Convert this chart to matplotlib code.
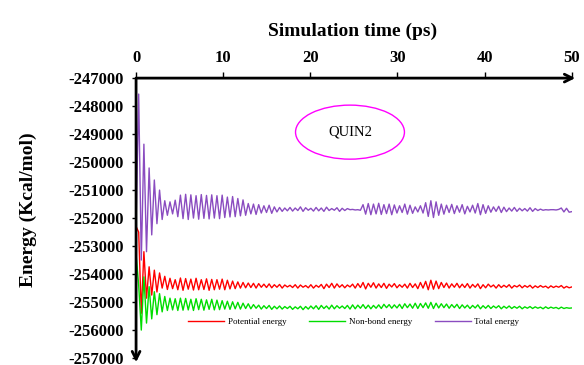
import matplotlib
matplotlib.use("Agg")
import matplotlib.pyplot as plt
import numpy as np
from matplotlib.patches import Ellipse

plt.rcParams['font.family'] = ['Liberation Serif', 'DejaVu Serif']

# sampled energies (kcal/mol), one frame every ~0.3 ps from 0 to 50 ps
total_energy = [
    -252200, -247570, -253500, -249360, -253200, -250210, -252600, -250640, -252200, -251000,
    -252050, -251380, -251900, -251420, -251850, -251360, -251950, -251180, -252020, -251150,
    -252050, -251170, -252000, -251200, -252040, -251160, -252010, -251190, -252030, -251170,
    -252000, -251200, -252020, -251180, -251980, -251250, -251960, -251230, -251950, -251300,
    -251920, -251350, -251900, -251480, -251850, -251500, -251870, -251520, -251820, -251560,
    -251800, -251540, -251830, -251600, -251780, -251620, -251760, -251640, -251740, -251620,
    -251750, -251640, -251730, -251600, -251760, -251630, -251720, -251650, -251750, -251620,
    -251740, -251640, -251760, -251610, -251730, -251660, -251720, -251630, -251760, -251650,
    -251730, -251660, -251700, -251690, -251710, -251700, -251720, -251520, -251860, -251480,
    -251880, -251500, -251850, -251470, -251870, -251520, -251840, -251500, -251880, -251530,
    -251820, -251560, -251800, -251500, -251860, -251540, -251830, -251600, -251780, -251560,
    -251820, -251450, -251940, -251380, -251980, -251420, -251900, -251500, -251860, -251540,
    -251800, -251510, -251840, -251560, -251790, -251520, -251850, -251580, -251780, -251540,
    -251820, -251480, -251880, -251520, -251830, -251560, -251790, -251600, -251760, -251580,
    -251800, -251610, -251770, -251640, -251750, -251620, -251760, -251650, -251740, -251660,
    -251750, -251630, -251760, -251660, -251730, -251680, -251720, -251700, -251710, -251700,
    -251700, -251710, -251690, -251640, -251780, -251650, -251790, -251770,
]

potential_energy = [
    -252300, -252500, -255400, -253200, -254860, -253740, -254750, -253860, -254640, -253960,
    -254500, -254080, -254550, -254150, -254520, -254200, -254560, -254140, -254580, -254160,
    -254540, -254180, -254570, -254150, -254560, -254200, -254550, -254170, -254580, -254190,
    -254560, -254200, -254540, -254180, -254560, -254220, -254530, -254250, -254520, -254280,
    -254500, -254300, -254490, -254320, -254480, -254330, -254500, -254340, -254470, -254360,
    -254480, -254350, -254490, -254380, -254470, -254370, -254500, -254390, -254460, -254400,
    -254480, -254380, -254500, -254390, -254470, -254410, -254490, -254380, -254500, -254400,
    -254470, -254370, -254520, -254360, -254480, -254330, -254500, -254350, -254470, -254380,
    -254490, -254390, -254460, -254360, -254500, -254340, -254480, -254300, -254530, -254330,
    -254470, -254310, -254500, -254350, -254480, -254330, -254510, -254360, -254460, -254340,
    -254490, -254380, -254470, -254360, -254500, -254330, -254480, -254350, -254520, -254300,
    -254500, -254260, -254560, -254220, -254540, -254250, -254520, -254300, -254480, -254320,
    -254500, -254350, -254470, -254330, -254490, -254360, -254480, -254340, -254500, -254370,
    -254470, -254350, -254520, -254380, -254490, -254360, -254460, -254390, -254500, -254380,
    -254480, -254400, -254470, -254380, -254500, -254410, -254460, -254390, -254490, -254410,
    -254470, -254400, -254500, -254420, -254480, -254410, -254470, -254430, -254500, -254420,
    -254480, -254430, -254470, -254410, -254500, -254440, -254490, -254460,
]

nonbond_energy = [
    -253300, -254400, -256000, -254100, -255750, -254450, -255600, -254630, -255450, -254700,
    -255350, -254800, -255300, -254860, -255280, -254880, -255300, -254860, -255290, -254870,
    -255280, -254900, -255300, -254880, -255270, -254900, -255290, -254920, -255260, -254900,
    -255280, -254930, -255270, -254950, -255250, -254970, -255260, -254990, -255240, -255010,
    -255250, -255040, -255230, -255060, -255240, -255090, -255220, -255110, -255250, -255130,
    -255230, -255120, -255260, -255150, -255240, -255140, -255250, -255160, -255230, -255150,
    -255260, -255170, -255240, -255150, -255270, -255160, -255250, -255140, -255240, -255130,
    -255260, -255120, -255230, -255140, -255250, -255110, -255240, -255130, -255220, -255140,
    -255230, -255120, -255250, -255100, -255240, -255110, -255220, -255090, -255230, -255110,
    -255240, -255120, -255220, -255100, -255230, -255080, -255200, -255090, -255220, -255100,
    -255210, -255080, -255230, -255060, -255200, -255070, -255220, -255040, -255230, -255050,
    -255200, -255030, -255220, -255010, -255230, -255040, -255210, -255060, -255200, -255070,
    -255220, -255090, -255200, -255080, -255230, -255100, -255210, -255110, -255230, -255120,
    -255210, -255100, -255240, -255130, -255220, -255120, -255230, -255140, -255210, -255130,
    -255240, -255150, -255220, -255140, -255230, -255160, -255220, -255150, -255240, -255170,
    -255220, -255160, -255230, -255170, -255220, -255180, -255240, -255170, -255230, -255180,
    -255220, -255190, -255240, -255180, -255230, -255200, -255220, -255210,
]

time_ps = np.linspace(0, 50, len(total_energy))
x_ticks = [0, 10, 20, 30, 40, 50]
y_ticks = list(range(-257000, -246000, 1000))

fig = plt.figure(figsize=(5.84, 3.65), dpi=100)
ax = fig.add_axes([0.233, 0.019, 0.746, 0.767])

ax.plot(time_ps, potential_energy, color='#ff0000', lw=1.0, label='Potential energy')
ax.plot(time_ps, nonbond_energy, color='#00dd00', lw=1.0, label='Non-bond energy')
ax.plot(time_ps, total_energy, color='#8a4cc0', lw=1.0, label='Total energy')

ax.set_xlim(0, 50)
ax.set_ylim(-257000, -247000)
ax.set_xticks(x_ticks)
ax.set_yticks(y_ticks)
ax.set_yticklabels([str(v) for v in y_ticks])
ax.xaxis.tick_top()
ax.tick_params(axis='x', direction='out', length=4, width=1, pad=5, labelsize=12)
ax.tick_params(axis='y', direction='out', length=3, width=1, pad=6, labelsize=12)
for lab in ax.get_xticklabels() + ax.get_yticklabels():
    lab.set_fontweight('bold')

for s in ['top', 'bottom', 'left', 'right']:
    ax.spines[s].set_visible(False)
# axes drawn as arrows
ax.annotate('', xy=(1.008, 1), xytext=(0, 1), xycoords='axes fraction',
            arrowprops=dict(arrowstyle='->', lw=2, color='black', mutation_scale=14,
                            shrinkA=0, shrinkB=0), annotation_clip=False)
ax.annotate('', xy=(0, -0.015), xytext=(0, 1), xycoords='axes fraction',
            arrowprops=dict(arrowstyle='->', lw=2, color='black', mutation_scale=14,
                            shrinkA=0, shrinkB=0), annotation_clip=False)

ax.xaxis.set_label_position('top')
ax.set_xlabel('Simulation time (ps)', fontsize=14, fontweight='bold')
ax.xaxis.set_label_coords(0.498, 1.15)
ax.set_ylabel('Energy (Kcal/mol)', fontsize=14, fontweight='bold')
ax.yaxis.set_label_coords(-0.228, 0.53)

ell = Ellipse((0.491, 0.807), 0.25, 0.193, transform=ax.transAxes,
              fill=False, edgecolor='#ff00ff', lw=1)
ax.add_patch(ell)
ax.text(0.491, 0.807, 'QUIN2', transform=ax.transAxes, ha='center', va='center',
        fontsize=10.5)

ax.legend(loc='center', bbox_to_anchor=(0.5, 0.129), ncol=3, frameon=False,
          fontsize=6.5, handlelength=4, columnspacing=2.5, handletextpad=0.4)

fig.savefig('out.png', dpi=100)
